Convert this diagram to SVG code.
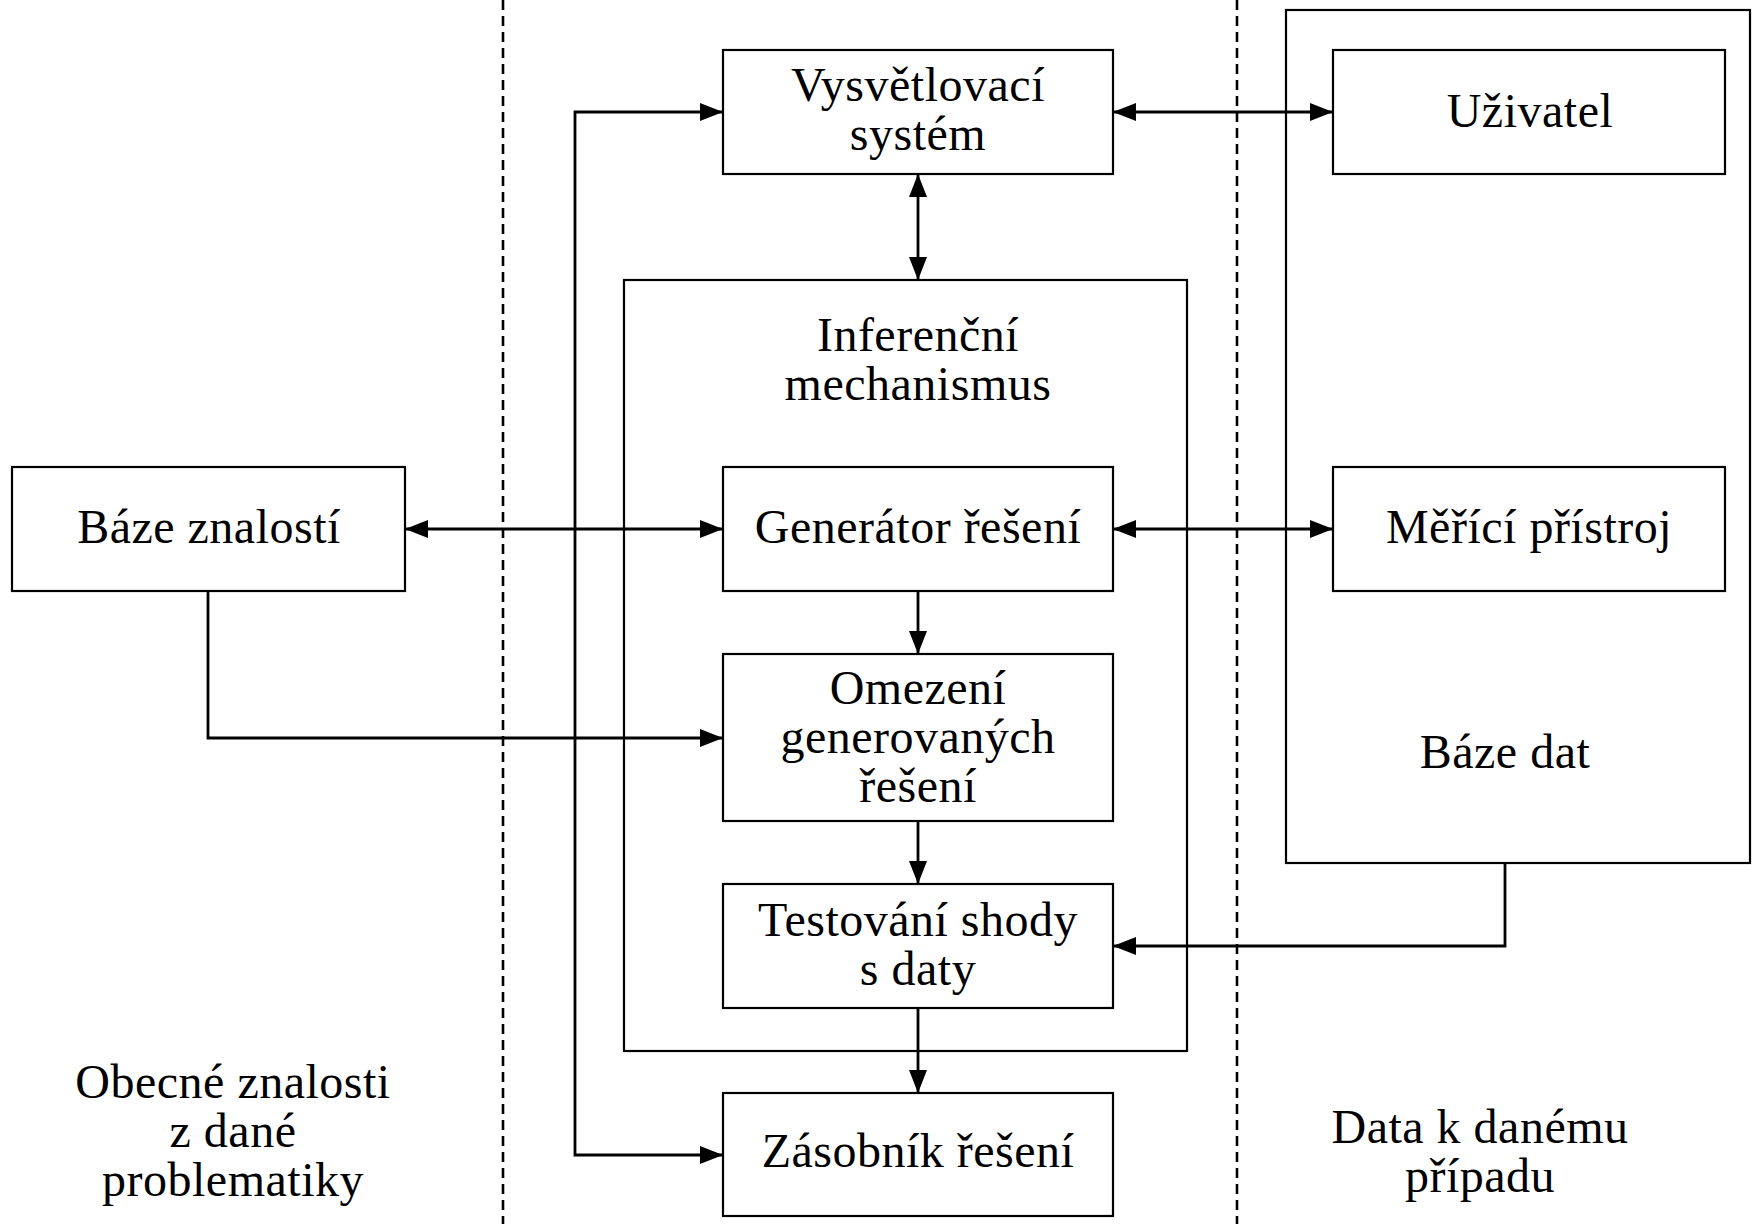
<svg xmlns="http://www.w3.org/2000/svg" width="1753" height="1224" viewBox="0 0 1753 1224">
<style>
.box{fill:#fff;stroke:#000;stroke-width:2.2}
.frame{fill:none;stroke:#000;stroke-width:2.2}
.t{font-family:"Liberation Serif","Times New Roman",serif;font-size:48px;fill:#000;text-anchor:middle;letter-spacing:0.5px}
.c{fill:none;stroke:#000;stroke-width:2.8}
.dash{fill:none;stroke:#000;stroke-width:2.6;stroke-dasharray:10 6}
</style>
<defs>
<marker id="ah" markerUnits="userSpaceOnUse" markerWidth="24" markerHeight="18" refX="23" refY="9" orient="auto-start-reverse">
<path d="M0,0 L23,9 L0,18 z" fill="#000"/>
</marker>
</defs>
<rect width="1753" height="1224" fill="#fff"/>
<g id="separators">
<line class="dash" x1="503" y1="0" x2="503" y2="1224"/>
<line class="dash" x1="1237" y1="0" x2="1237" y2="1224"/>
</g>
<g id="baze-dat">
<rect class="frame" x="1286" y="10" width="464" height="853"/>
<text class="t" x="1505" y="768">Báze dat</text>
</g>
<g id="inferencni-mechanismus">
<rect class="frame" x="624" y="280" width="563" height="771"/>
<text class="t" x="918" y="351">Inferenční</text>
<text class="t" x="918" y="400">mechanismus</text>
</g>
<g id="vysvetlovaci-system">
<rect class="box" x="723" y="50" width="390" height="124"/>
<text class="t" x="918" y="101">Vysvětlovací</text>
<text class="t" x="918" y="150">systém</text>
</g>
<g id="uzivatel">
<rect class="box" x="1333" y="50" width="392" height="124"/>
<text class="t" x="1530" y="127">Uživatel</text>
</g>
<g id="baze-znalosti">
<rect class="box" x="12" y="467" width="393" height="124"/>
<text class="t" x="209" y="543">Báze znalostí</text>
</g>
<g id="generator-reseni">
<rect class="box" x="723" y="467" width="390" height="124"/>
<text class="t" x="918" y="543">Generátor řešení</text>
</g>
<g id="merici-pristroj">
<rect class="box" x="1333" y="467" width="392" height="124"/>
<text class="t" x="1529" y="543">Měřící přístroj</text>
</g>
<g id="omezeni">
<rect class="box" x="723" y="654" width="390" height="167"/>
<text class="t" x="918" y="704">Omezení</text>
<text class="t" x="918" y="753">generovaných</text>
<text class="t" x="918" y="802">řešení</text>
</g>
<g id="testovani">
<rect class="box" x="723" y="884" width="390" height="124"/>
<text class="t" x="918" y="936">Testování shody</text>
<text class="t" x="918" y="985">s daty</text>
</g>
<g id="zasobnik">
<rect class="box" x="723" y="1093" width="390" height="123"/>
<text class="t" x="918" y="1167">Zásobník řešení</text>
</g>
<g id="labels">
<text class="t" x="233" y="1098">Obecné znalosti</text>
<text class="t" x="233" y="1147">z dané</text>
<text class="t" x="233" y="1196">problematiky</text>
<text class="t" x="1480" y="1143">Data k danému</text>
<text class="t" x="1480" y="1192">případu</text>
</g>
<g id="connectors">
<path class="c" d="M723,112 H575 V1155 H723" marker-start="url(#ah)" marker-end="url(#ah)"/>
<path class="c" d="M1113,112 H1333" marker-start="url(#ah)" marker-end="url(#ah)"/>
<path class="c" d="M918,174 V280" marker-start="url(#ah)" marker-end="url(#ah)"/>
<path class="c" d="M405,529 H723" marker-start="url(#ah)" marker-end="url(#ah)"/>
<path class="c" d="M1113,529 H1333" marker-start="url(#ah)" marker-end="url(#ah)"/>
<path class="c" d="M918,591 V654" marker-end="url(#ah)"/>
<path class="c" d="M208,591 V738 H723" marker-end="url(#ah)"/>
<path class="c" d="M918,821 V884" marker-end="url(#ah)"/>
<path class="c" d="M1505,863 V946 H1113" marker-end="url(#ah)"/>
<path class="c" d="M918,1008 V1093" marker-end="url(#ah)"/>
</g>
</svg>
